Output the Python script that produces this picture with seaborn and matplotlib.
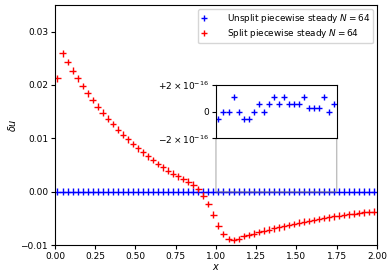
import numpy as np
import pandas as pd
import matplotlib
matplotlib.use('Agg')
import matplotlib.pyplot as plt
import seaborn as sns

N = 64
x = (np.arange(N) + 0.5) * 2.0 / N

# split scheme error
split_du = [
    0.02125, 0.0259, 0.0243, 0.0227, 0.02125, 0.0198, 0.01845, 0.01714,
    0.01594, 0.01482, 0.0137, 0.01265, 0.01164, 0.01071, 0.00978, 0.00891,
    0.0081, 0.00735, 0.0066, 0.00592, 0.00523, 0.00454, 0.00393, 0.00336,
    0.00286, 0.00237, 0.00187, 0.0013, 0.00053, -0.00075, -0.0023, -0.0043,
    -0.00636, -0.0079, -0.00884, -0.00903, -0.00884, -0.00835, -0.0081, -0.00785,
    -0.00754, -0.0073, -0.0071, -0.00686, -0.00667, -0.00648, -0.00622, -0.00602,
    -0.00582, -0.00563, -0.00548, -0.00529, -0.0051, -0.00492, -0.0048, -0.00461,
    -0.00449, -0.00436, -0.00424, -0.00411, -0.00398, -0.00387, -0.0038, -0.00374,
]

# unsplit scheme: round-off only, nonzero values visible in the inset (units of ~2^-54)
e = 5.55e-17
unsplit_inset = [-1, 0, 0, 2, 0, -1, -1, 0, 1, 0, 1, 2,
                 1, 2, 1, 1, 1, 2, 0.5, 0.5, 0.5, 2, 0, 1]
unsplit_du = [0.0] * 32 + [v * e for v in unsplit_inset] + [0.0] * 8

df = pd.DataFrame({
    'x': np.concatenate([x, x]),
    'du': np.concatenate([unsplit_du, split_du]),
    'scheme': ['Unsplit piecewise steady $N = 64$'] * N + ['Split piecewise steady $N = 64$'] * N,
})
palette = {'Unsplit piecewise steady $N = 64$': 'blue',
           'Split piecewise steady $N = 64$': 'red'}

fig = plt.figure(figsize=(3.87, 2.75), dpi=100)
ax = fig.add_axes([0.142, 0.109, 0.832, 0.873])

sns.scatterplot(data=df, x='x', y='du', hue='scheme', palette=palette,
                marker='+', s=22, linewidth=1.0, ax=ax)
ax.set_xlim(0, 2)
ax.set_ylim(-0.01, 0.035)
ax.set_xticks([0, 0.25, 0.5, 0.75, 1.0, 1.25, 1.5, 1.75, 2.0])
ax.set_yticks([-0.01, 0, 0.01, 0.02, 0.03])
ax.tick_params(labelsize=6.5, length=3, pad=2)
ax.set_xlabel('$x$', fontsize=7, labelpad=1)
ax.set_ylabel(r'$\delta u$', fontsize=7, labelpad=2)
ax.legend(loc='upper right', fontsize=6.4, handlelength=0.6, handletextpad=2.3,
          borderpad=0.35, labelspacing=0.25, borderaxespad=0.45)

axins = ax.inset_axes([1.0, 0.01, 0.75, 0.01], transform=ax.transData)
sub = df[(df['scheme'].str.startswith('Unsplit')) & (df['x'] > 1.0) & (df['x'] < 1.75)]
sns.scatterplot(data=sub, x='x', y='du', color='blue', marker='+', s=22,
                linewidth=1.0, ax=axins, legend=False)
axins.set_xlim(1.0, 1.75)
axins.set_ylim(-2e-16, 2e-16)
axins.set_xticks([])
axins.set_yticks([-2e-16, 0, 2e-16])
axins.set_yticklabels([r'$-2\times10^{-16}$', '0', r'$+2\times10^{-16}$'])
axins.tick_params(labelsize=6.5, length=3, pad=2)
axins.set_xlabel('')
axins.set_ylabel('')
ax.indicate_inset_zoom(axins, edgecolor='0.5')

fig.savefig('out.png', dpi=100)
